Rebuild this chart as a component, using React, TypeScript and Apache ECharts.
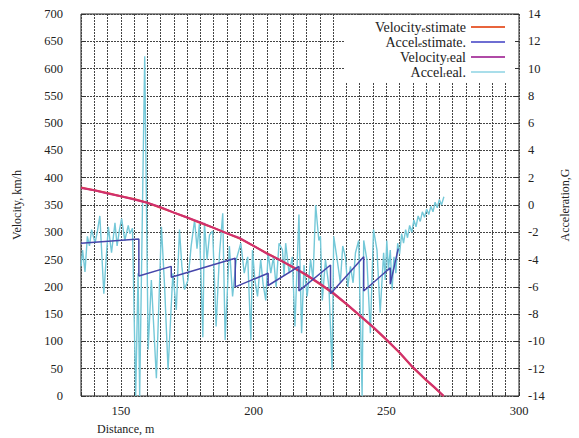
import React, { useEffect, useRef } from "react";
import * as echarts from "echarts";

// ---- data ----
const velocityDist = [135, 140, 145, 150, 155, 160, 165, 170, 175, 180, 185, 190, 195, 200, 205, 210, 215, 220, 225, 230, 235, 240, 245, 250, 255, 260, 265, 268, 271.6];
const velocityReal = [381, 377, 371, 366, 360, 354, 346, 336, 327, 318, 308, 298, 289, 275, 261, 249, 236, 222, 206, 189, 169, 148, 127, 104, 80, 53, 30, 17, 0];
const velocityEstimate = [382, 377, 372, 366, 361, 354, 345, 336, 327, 317, 308, 298, 288, 275, 262, 249, 235, 221, 205, 188, 168, 147, 126, 103, 79, 52, 29, 16, 0];

const accelEstDist = [135, 156.8, 156.8, 169.0, 169.0, 193.1, 193.1, 205.5, 205.5, 217.1, 217.1, 229.0, 229.0, 241.5, 241.5, 251.5, 251.5, 254.5];
const accelEstimate = [-2.8, -2.5, -5.2, -4.5, -5.3, -3.9, -6.0, -5.0, -5.9, -4.5, -6.3, -4.4, -6.5, -3.8, -6.3, -4.6, -5.8, -3.2];

const accelRealDist = [
  135.0, 135.6, 136.5, 137.4, 138.2, 139.0, 140.3, 141.2, 142.1, 143.6, 145.3, 146.5, 147.8, 148.6, 149.5, 150.3,
  151.5, 152.8, 153.4, 154.4, 155.6, 156.5, 157.1, 159.0, 160.3, 161.5, 163.4, 165.3, 166.5, 167.8, 169.6, 170.9,
  172.1, 173.0, 174.0, 175.3, 176.5, 177.8, 178.7, 179.6, 180.9, 181.5, 182.5, 183.4, 184.6, 185.9, 187.2, 188.4,
  189.3, 190.9, 192.1, 193.5, 195.2, 196.5, 197.8, 199.0, 199.6, 200.5, 201.5, 202.7, 203.6, 204.6, 205.5, 206.5,
  207.5, 208.5, 209.6, 210.9, 211.5, 212.1, 213.4, 214.6, 215.6, 217.1, 218.1, 219.0, 220.2, 221.5, 222.4, 223.4,
  224.6, 225.2, 225.9, 227.1, 228.4, 229.6, 230.2, 231.5, 232.7, 233.6, 234.6, 235.5, 236.5, 237.5, 238.4, 239.6,
  240.9, 241.5, 242.7, 244.0, 245.2, 246.5, 247.7, 249.0, 249.6, 250.2, 250.8, 251.5, 252.2, 252.9, 253.6, 254.3,
  255.0, 255.8, 256.5, 257.3, 258.0, 258.8, 259.6, 260.4, 261.2, 262.0, 262.8, 263.6, 264.4, 265.2, 266.0, 266.8,
  267.6, 268.4, 269.2, 270.0, 270.8, 271.7,
];
const accelReal = [
  -4.5, -3.3, -4.9, -2.3, -3.0, -1.8, -2.8, -1.9, -0.8, -6.5, -1.6, -3.5, -1.3, -3.0, -1.8, -1.0,
  -2.6, -1.5, -2.1, -1.7, -14, -5.0, -14, 10.9, -10.6, -5.5, -12.7, -1.6, -6.0, -12.1, -5.0, -7.7,
  -1.8, -4.5, -6.2, -5.5, -3.0, -1.1, -3.2, -1.4, -9.7, -1.3, -4.0, -2.2, -1.9, -8.9, -3.5, -0.6,
  -9.9, -3.0, -6.7, -4.0, -2.8, -5.0, -3.8, -9.9, -3.3, -5.5, -6.7, -4.0, -5.8, -7.0, -3.5, -5.0,
  -3.8, -6.0, -2.8, -3.3, -5.2, -2.8, -5.0, -3.8, -8.9, -0.7, -9.4, -4.4, -6.7, -4.0, -5.5, 0.0,
  -2.6, -2.3, -7.0, -4.0, -6.0, -12.1, -2.3, -4.0, -5.7, -3.0, -3.8, -6.0, -4.5, -5.7, -3.5, -2.6,
  -14, -2.6, -4.0, -9.4, -1.8, -3.3, -7.9, -3.5, -5.5, -2.6, -4.8, -3.3, -6.2, -3.8, -5.0, -2.8,
  -3.6, -2.1, -2.8, -1.8, -2.4, -1.5, -2.0, -1.1, -1.6, -0.8, -1.2, -0.5, -0.9, -0.3, -0.7, -0.1,
  -0.5, 0.2, -0.2, 0.4, 0.0, 0.6,
];

const seriesNames = ["Velocity_estimate", "Accel_estimate.", "Velocity_real", "Accel_real."];
const legendRich = [
  "{a|Velocity}{s|e}{a|stimate}",
  "{a|Accel}{s|e}{a|stimate.}",
  "{a|Velocity}{s|r}{a|eal}",
  "{a|Accel}{s|r}{a|eal.}",
];
const legendColors = ["#e8643c", "#6e6ed2", "#b04aa6", "#a9deea"];

const xLabelStep = 50;

const FONT = "'Liberation Serif', 'DejaVu Serif', serif";

export default function App() {
  const ref = useRef<HTMLDivElement>(null);

  useEffect(() => {
    if (!ref.current) return;
    const chart = echarts.init(ref.current, undefined, { renderer: "svg" });
    const zip = (xs: number[], ys: number[]) => xs.map((x, i) => [x, ys[i]]);
    const gridLine = { show: true, lineStyle: { color: "#444", type: [2, 1] as any, width: 1 } };

    chart.setOption({
      animation: false,
      backgroundColor: "#ffffff",
      textStyle: { fontFamily: FONT },
      grid: {
        left: 81,
        right: 57,
        top: 14,
        bottom: 42,
        show: true,
        borderColor: "#222",
        borderWidth: 1,
        backgroundColor: "#ffffff",
      },
      legend: {
        orient: "vertical",
        right: 64,
        top: 15,
        align: "right",
        icon: "rect",
        itemWidth: 34,
        itemHeight: 2,
        itemGap: 1,
        padding: [5, 10, 3, 30],
        backgroundColor: "#ffffff",
        data: seriesNames.map((n, i) => ({ name: n, itemStyle: { color: legendColors[i] } })),
        formatter: (name: string) => legendRich[seriesNames.indexOf(name)],
        textStyle: {
          fontFamily: FONT,
          color: "#222",
          rich: {
            a: { fontFamily: FONT, fontSize: 14, color: "#222", lineHeight: 12 },
            s: { fontFamily: FONT, fontSize: 9, color: "#222", lineHeight: 9, verticalAlign: "bottom", padding: [3, 0, 0, 0] },
          },
        },
      },
      xAxis: {
        type: "value",
        min: 135,
        max: 300,
        interval: 5,
        axisLine: { show: false },
        axisTick: { show: true, inside: true, length: 4, lineStyle: { color: "#333" } },
        axisLabel: {
          fontFamily: FONT,
          fontSize: 12.5,
          color: "#222",
          margin: 8,
          formatter: (v: number) => (v % xLabelStep === 0 ? String(v) : ""),
        },
        splitLine: gridLine,
      },
      yAxis: [
        {
          type: "value",
          min: 0,
          max: 700,
          interval: 50,
          name: "Velocity, km/h",
          nameLocation: "middle",
          nameGap: 58,
          nameRotate: 90,
          nameTextStyle: { fontFamily: FONT, fontSize: 12, color: "#222" },
          axisLine: { show: false },
          axisTick: { show: true, inside: true, length: 5, lineStyle: { color: "#333" } },
          axisLabel: { fontFamily: FONT, fontSize: 12.5, color: "#222", margin: 18 },
          splitLine: gridLine,
        },
        {
          type: "value",
          min: -14,
          max: 14,
          interval: 2,
          position: "right",
          name: "Acceleration,G",
          nameLocation: "middle",
          nameGap: 40,
          nameRotate: 90,
          nameTextStyle: { fontFamily: FONT, fontSize: 12, color: "#222" },
          axisLine: { show: false },
          axisTick: { show: true, inside: true, length: 5, lineStyle: { color: "#333" } },
          axisLabel: { fontFamily: FONT, fontSize: 12.5, color: "#222", margin: 9 },
          splitLine: { show: false },
        },
      ],
      graphic: [
        {
          type: "text",
          left: 97,
          top: 423,
          style: { text: "Distance, m", font: `12px ${FONT}`, fill: "#222" },
        },
      ],
      series: [
        {
          name: seriesNames[0],
          type: "line",
          yAxisIndex: 0,
          data: zip(velocityDist, velocityEstimate),
          showSymbol: false,
          lineStyle: { color: "#e0443e", width: 2 },
          itemStyle: { color: "#e0443e" },
          z: 3,
        },
        {
          name: seriesNames[1],
          type: "line",
          yAxisIndex: 1,
          data: zip(accelEstDist, accelEstimate),
          showSymbol: false,
          lineStyle: { color: "#4646aa", width: 1.5 },
          itemStyle: { color: "#4646aa" },
          z: 5,
        },
        {
          name: seriesNames[2],
          type: "line",
          yAxisIndex: 0,
          data: zip(velocityDist, velocityReal),
          showSymbol: false,
          lineStyle: { color: "#d0306e", width: 2 },
          itemStyle: { color: "#d0306e" },
          z: 4,
        },
        {
          name: seriesNames[3],
          type: "line",
          yAxisIndex: 1,
          data: zip(accelRealDist, accelReal),
          showSymbol: false,
          lineStyle: { color: "#74c8d8", width: 1.4 },
          itemStyle: { color: "#74c8d8" },
          z: 2,
        },
      ],
    });
    return () => chart.dispose();
  }, []);

  return (
    <div
      ref={ref}
      style={{ position: "fixed", left: 0, top: 0, width: 579, height: 438, background: "#fff" }}
    />
  );
}
